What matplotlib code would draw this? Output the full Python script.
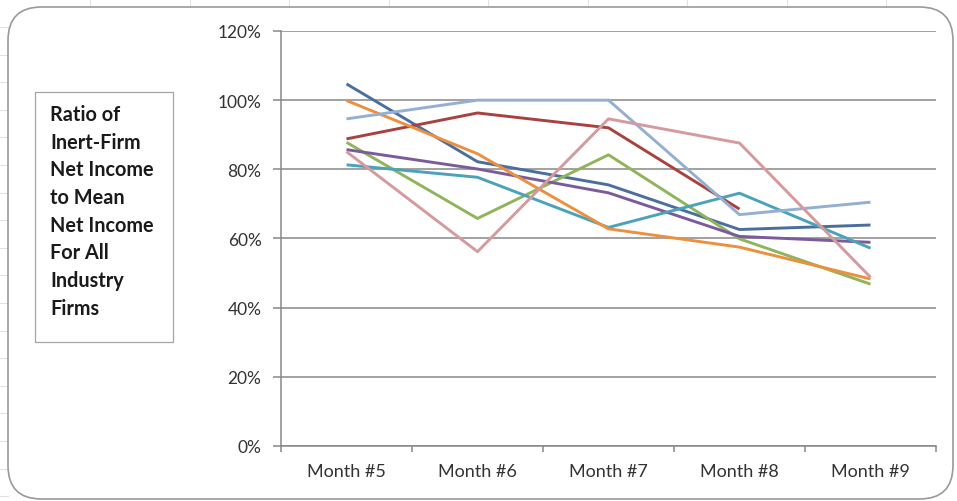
import numpy as np
import matplotlib.pyplot as plt
from matplotlib.patches import FancyBboxPatch, Rectangle
from matplotlib.ticker import PercentFormatter

months = ["Month #5", "Month #6", "Month #7", "Month #8", "Month #9"]

# ratio of each firm's net income to the industry mean
firm_blue = [1.047, 0.822, 0.755, 0.626, 0.639]
firm_red = [0.888, 0.963, 0.920, 0.685, np.nan]
firm_green = [0.878, 0.658, 0.842, 0.599, 0.468]
firm_purple = [0.857, 0.801, 0.732, 0.606, 0.589]
firm_aqua = [0.813, 0.777, 0.632, 0.731, 0.572]
firm_orange = [0.999, 0.845, 0.628, 0.575, 0.483]
firm_lightblue = [0.946, 1.000, 1.000, 0.669, 0.705]
firm_pink = [0.851, 0.562, 0.946, 0.876, 0.488]

series = [
    (firm_blue, "#4a6f9e"),
    (firm_red, "#a8423f"),
    (firm_green, "#90b45a"),
    (firm_purple, "#7a5c9c"),
    (firm_aqua, "#4aa3ba"),
    (firm_orange, "#ec9040"),
    (firm_lightblue, "#94afd2"),
    (firm_pink, "#d49a9e"),
]

plt.rcParams["font.family"] = ["Lato", "DejaVu Sans"]

fig = plt.figure(figsize=(9.57, 5.02), dpi=100)
W, H = 957, 502

# faint worksheet cells behind the chart
for x in np.arange(90, W, 99.5):
    fig.add_artist(plt.Line2D([x / W, x / W], [1 - 8 / H, 1], color="#e2e2e2",
                              lw=0.8, zorder=-20))
for y in np.arange(28, H, 27.6):
    fig.add_artist(plt.Line2D([0, 8 / W], [1 - y / H, 1 - y / H], color="#e2e2e2",
                              lw=0.8, zorder=-20))

# rounded chart-area frame
frame = FancyBboxPatch((8 / W, 2 / H), (953 - 8) / W, (494 - 2) / H,
                       boxstyle="round,pad=0,rounding_size=0.035",
                       transform=fig.transFigure, facecolor="white",
                       edgecolor="#9a9a9a", lw=1.2, mutation_aspect=W / H,
                       zorder=-10)
fig.add_artist(frame)

ax = fig.add_axes([281 / W, 1 - 447 / H, (936 - 281) / W, (447 - 32) / H])
ax.set_facecolor("none")

x = np.arange(len(months))
for vals, color in series:
    ax.plot(x, vals, color=color, lw=2.1, solid_capstyle="butt")

ax.set_xlim(-0.5, len(months) - 0.5)
ax.set_ylim(0, 1.2)
ax.set_yticks(np.arange(0, 1.21, 0.2))
ax.yaxis.set_major_formatter(PercentFormatter(1.0, decimals=0))
ax.grid(axis="y", color="#878787", lw=1.1)
ax.set_axisbelow(True)

ax.set_xticks(x)
ax.set_xticklabels(months)
ax.set_xticks(np.arange(-0.5, len(months)), minor=True)
ax.tick_params(axis="x", which="major", length=0, pad=12.5, labelsize=13, labelcolor="#333333")
ax.tick_params(axis="x", which="minor", length=4, color="#878787", width=1.1)
ax.tick_params(axis="y", length=6, color="#878787", width=1.1, pad=8,
               labelsize=12.5, labelcolor="#333333")

for side in ["top", "right"]:
    ax.spines[side].set_visible(False)
for side in ["left", "bottom"]:
    ax.spines[side].set_color("#878787")
    ax.spines[side].set_linewidth(1.1)

# side caption box
fig.add_artist(Rectangle((35 / W, 1 - 343 / H), (173 - 35) / W, (343 - 93) / H,
                         transform=fig.transFigure, facecolor="white",
                         edgecolor="#a6a6a6", lw=0.9))
caption = "Ratio of\nInert-Firm\nNet Income\nto Mean\nNet Income\nFor All\nIndustry\nFirms"
fig.text(50 / W, 1 - 105 / H, caption, ha="left", va="top", fontsize=14.3,
         fontweight="bold", color="#1a1a1a", linespacing=1.48)

fig.savefig("out.png", dpi=100)
